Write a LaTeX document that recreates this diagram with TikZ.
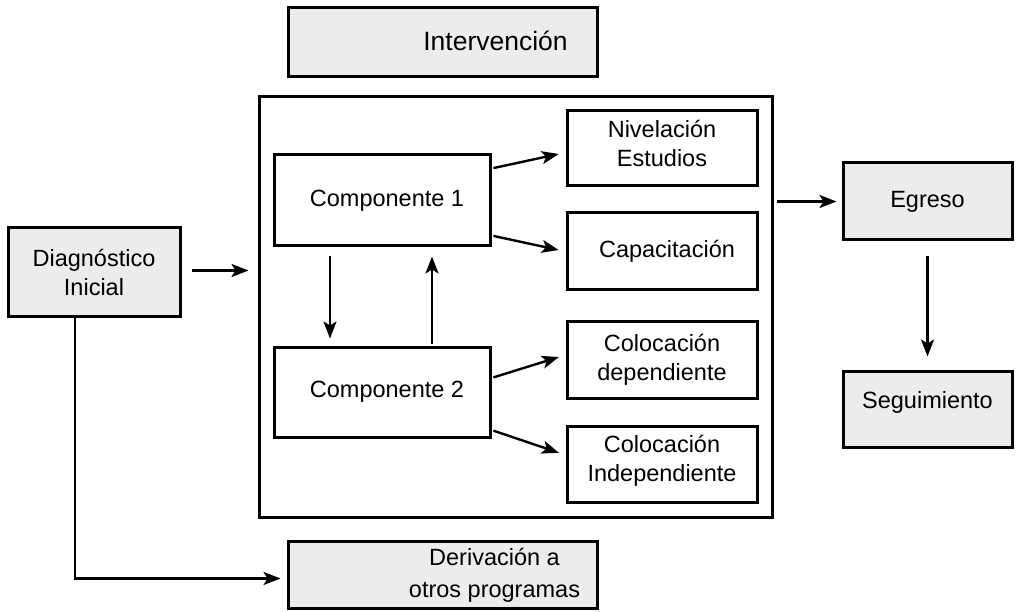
\documentclass[tikz,border=0pt]{standalone}
\usepackage{fontspec}
\setmainfont{Liberation Sans}
\usepackage{tikz}
\usepackage{xcolor}
\usetikzlibrary{arrows.meta,positioning,calc}
\definecolor{boxgray}{RGB}{235,236,236}

\begin{document}
\begin{tikzpicture}[x=1pt,y=-1pt,
    graybox/.style={draw, line width=3pt, fill=boxgray, align=center, inner sep=0pt},
    whitebox/.style={draw, line width=3pt, fill=white, align=center, inner sep=0pt},
    arr/.style={line width=2.4pt, -{Stealth[length=17pt,width=13pt,inset=4pt]}},
    every node/.style={font=\fontsize{23.5}{29}\selectfont},
    every label/.style={align=center, inner sep=0pt}]
    \useasboundingbox (0,0) rectangle (1020,612);

    % outer frame of the intervention
    \node[whitebox, minimum width=513pt, minimum height=420pt] (frame) at (515.5,307) {};

    % header and footer (text sits right of centre)
    \node[graybox, minimum width=309pt, minimum height=69pt,
        label={[xshift=53pt, yshift=2pt, font=\fontsize{26.5}{31}\selectfont]center:Intervenci\'on}] (interv) at (442.5,42.5) {};
    \node[graybox, minimum width=309pt, minimum height=67pt,
        label={[xshift=52pt, yshift=-1pt, font=\fontsize{23.5}{32}\selectfont]center:Derivaci\'on a\\otros programas}] (deriv) at (442.5,574.5) {};

    % left and right columns
    \node[graybox, minimum width=172pt, minimum height=89pt] (diag) at (94,272.5) {Diagn\'ostico\\Inicial};
    \node[graybox, minimum width=169pt, minimum height=77pt] (egreso) at (927.5,201.5) {Egreso};
    \node[graybox, minimum width=169pt, minimum height=76pt] (seguim) at (927.5,409) {Seguimiento\\[-10pt]};

    % components
    \node[whitebox, minimum width=216pt, minimum height=91pt] (comp1) at (382,200.5) {\hspace*{10pt}Componente 1};
    \node[whitebox, minimum width=216pt, minimum height=90pt] (comp2) at (382,392) {\hspace*{10pt}Componente 2};

    % outcomes
    \node[whitebox, minimum width=190pt, minimum height=75pt] (nivel) at (662,148.5) {Nivelaci\'on\\Estudios\\[-18pt]};
    \node[whitebox, minimum width=190pt, minimum height=77pt] (capac) at (662,251.5) {\hspace*{10pt}Capacitaci\'on};
    \node[whitebox, minimum width=190pt, minimum height=76pt] (coldep) at (662,360) {Colocaci\'on\\dependiente};
    \node[whitebox, minimum width=190pt, minimum height=76pt] (colind) at (662,464) {Colocaci\'on\\Independiente\\[-18pt]};

    % connectors
    \draw[arr, shorten <=10pt, shorten >=9pt] ([yshift=2pt]diag.east) -- ([yshift=2pt]diag.east -| frame.west);
    \draw[arr, shorten <=3pt, shorten >=5pt] (frame.east |- egreso.west) -- (egreso.west);
    \draw[arr, shorten <=15pt, shorten >=13pt] (egreso.south) -- (seguim.north);
    \draw[arr, shorten >=6pt] ([xshift=-19pt]diag.south) |- ([yshift=-4pt]deriv.west);

    \draw[arr, shorten <=2pt, shorten >=7pt] ([yshift=32pt]comp1.east) -- ([yshift=-4pt]nivel.west);
    \draw[arr, shorten <=2pt, shorten >=7pt] ([yshift=-35pt]comp1.east) -- (capac.west);
    \draw[arr, shorten <=2pt, shorten >=7pt] ([yshift=14pt]comp2.east) -- ([yshift=5pt]coldep.west);
    \draw[arr, shorten <=2pt, shorten >=7pt] ([yshift=-38pt]comp2.east) -- ([yshift=9pt]colind.west);

    \draw[arr, shorten <=9pt, shorten >=7pt] ([xshift=-52pt]comp1.south) -- ([xshift=-52pt]comp2.north);
    \draw[arr, shorten <=2pt, shorten >=9pt] ([xshift=50pt]comp2.north) -- ([xshift=50pt]comp1.south);

\end{tikzpicture}
\end{document}
